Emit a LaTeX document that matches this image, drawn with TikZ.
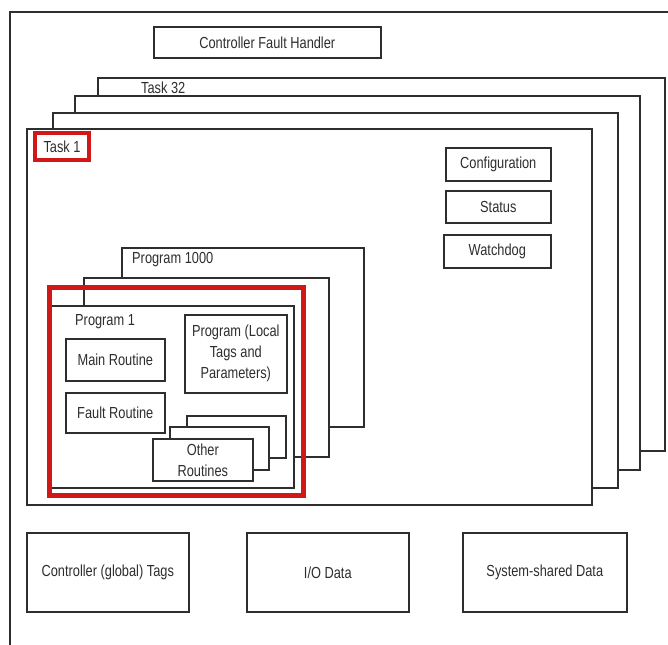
\documentclass[tikz,border=0pt]{standalone}
\usepackage{fontspec}
\setmainfont{Liberation Sans}[FakeStretch=0.8]
\definecolor{ink}{HTML}{2E2E2E}
\definecolor{hilite}{HTML}{D01818}
\begin{document}
\begin{tikzpicture}[x=1pt, y=-1pt,
  lbl/.style={font=\fontsize{16}{21}\selectfont, text=ink, align=center},
  box/.style={lbl, draw=ink, line width=1.6pt, fill=white, inner sep=0pt, anchor=north west},
  tag/.style={lbl, inner sep=0pt, anchor=west},
  hl/.style={lbl, draw=hilite, line width=4pt, inner sep=0pt, anchor=north west}]
\useasboundingbox (0,0) rectangle (668,644);
\clip (0,0) rectangle (668,644);
% controller frame (runs off the page to the right and bottom)
\draw[ink, line width=1.6pt] (10,660) -- (10,12) -- (680,12);

\node[box, minimum width=227pt, minimum height=31pt] (cfh) at (153,26) {Controller Fault Handler};

% task stack
\node[box, minimum width=567pt, minimum height=373pt] (task32) at (97,77) {};
\node[tag] (task32lbl) at (141,88) {Task 32};
\node[box, minimum width=565pt, minimum height=374pt] (taskB) at (74,95) {};
\node[box, minimum width=565pt, minimum height=375pt] (taskC) at (52,112) {};
\node[box, minimum width=565pt, minimum height=376pt] (task1) at (26,128) {};
\node[hl, minimum width=54pt, minimum height=27pt] (task1lbl) at (33,131) {Task 1};

% task properties
\node[box, minimum width=105pt, minimum height=33pt] (config) at (445,147) {Configuration};
\node[box, minimum width=105pt, minimum height=32pt] (status) at (445,190) {Status};
\node[box, minimum width=107pt, minimum height=33pt] (watchdog) at (443,234) {Watchdog};

% program stack
\node[box, minimum width=242pt, minimum height=179pt] (prog1000) at (121,247) {};
\node[tag] (prog1000lbl) at (132,260) {Program 1000};
\node[box, minimum width=245pt, minimum height=179pt] (progB) at (83,277) {};
\node[box, minimum width=245pt, minimum height=182pt] (prog1) at (48,305) {};
\node[tag] (prog1lbl) at (75,322) {Program 1};

\node[box, minimum width=99pt, minimum height=42pt] (mainr) at (65,338) {Main Routine};
\node[box, minimum width=99pt, minimum height=40pt] (faultr) at (65,392) {Fault Routine};
\node[box, minimum width=102pt, minimum height=78pt] (localtags) at (184,314) {Program (Local\\Tags and\\Parameters)};

% other routines stack
\node[box, minimum width=99pt, minimum height=42pt] (otherC) at (186,415) {};
\node[box, minimum width=99pt, minimum height=43pt] (otherB) at (169,426) {};
\node[box, minimum width=100pt, minimum height=42pt] (other) at (152,438) {Other\\Routines};

\node[hl, line width=5pt, minimum width=254pt, minimum height=208pt] (prog1hl) at (47,285) {};

% controller-wide data
\node[box, minimum width=162pt, minimum height=79pt] (gtags) at (26,532) {Controller (global) Tags};
\node[box, minimum width=162pt, minimum height=79pt] (iodata) at (246,532) {I/O Data};
\node[box, minimum width=164pt, minimum height=79pt] (sysdata) at (462,532) {System-shared Data};
\end{tikzpicture}
\end{document}
